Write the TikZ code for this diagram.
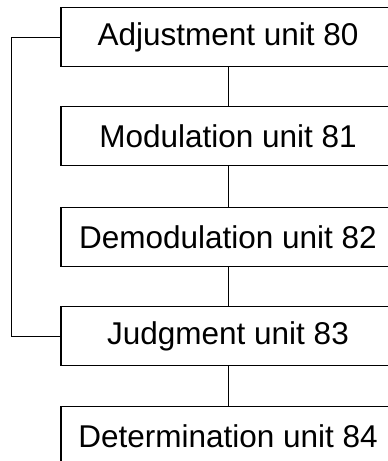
\documentclass[tikz,border=0pt]{standalone}
\usepackage{fontspec}
\setmainfont{Liberation Sans}
\begin{document}
\begin{tikzpicture}[x=1pt,y=-1pt,
  unitbox/.style={draw=black, line width=1.4pt, minimum width=334pt, minimum height=59pt,
    inner sep=0pt, font=\fontsize{31.5}{37}\selectfont},
  link/.style={draw=black, line width=1pt}]
\clip (0,0) rectangle (388,461);
\useasboundingbox (0,0) rectangle (388,461);
\node[unitbox] (b0) at (228,37) {Adjustment unit 80};
\node[unitbox] (b1) at (228,136) {Modulation unit 81};
\node[unitbox] (b2) at (228,237) {Demodulation unit 82};
\node[unitbox] (b3) at (228,336) {Judgment unit 83};
\node[unitbox] (b4) at (228,436) {Determination unit 84};
\draw[link] (b0.south) -- (b1.north);
\draw[link] (b1.south) -- (b2.north);
\draw[link] (b2.south) -- (b3.north);
\draw[link] (b3.south) -- (b4.north);
\draw[link] (b0.west) -- ++(-49,0) |- (b3.west);
\end{tikzpicture}
\end{document}
